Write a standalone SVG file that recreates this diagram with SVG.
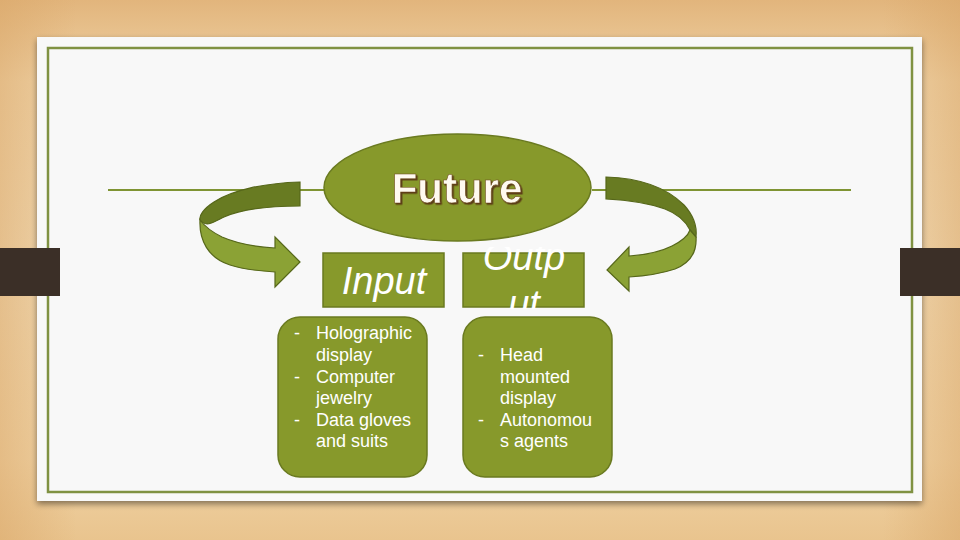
<svg xmlns="http://www.w3.org/2000/svg" width="960" height="540" viewBox="0 0 960 540">
<defs>
<linearGradient id="wood" x1="0" y1="0" x2="0" y2="1">
<stop offset="0" stop-color="#e2b57c"/>
<stop offset="0.15" stop-color="#efd2a6"/>
<stop offset="0.5" stop-color="#f1dab4"/>
<stop offset="0.85" stop-color="#f0d3a5"/>
<stop offset="1" stop-color="#e9c48e"/>
</linearGradient>
<linearGradient id="woodside" x1="0" y1="0" x2="1" y2="0">
<stop offset="0" stop-color="#d9a566" stop-opacity="0.5"/>
<stop offset="0.08" stop-color="#d9a566" stop-opacity="0"/>
<stop offset="0.92" stop-color="#d9a566" stop-opacity="0"/>
<stop offset="1" stop-color="#d9a566" stop-opacity="0.5"/>
</linearGradient>
<filter id="sh" x="-5%" y="-5%" width="110%" height="115%">
<feGaussianBlur in="SourceAlpha" stdDeviation="3"/>
<feOffset dx="0" dy="3"/>
<feComponentTransfer><feFuncA type="linear" slope="0.45"/></feComponentTransfer>
<feMerge><feMergeNode/><feMergeNode in="SourceGraphic"/></feMerge>
</filter>
<filter id="tsh" x="-10%" y="-20%" width="120%" height="140%">
<feDropShadow dx="1.5" dy="1.5" stdDeviation="0.4" flood-color="#5a3a12" flood-opacity="1"/>
</filter>
<clipPath id="outclip"><rect x="463" y="247" width="122" height="62"/></clipPath>
<style>
.shape{fill:#87992b;stroke:#6a7a20;stroke-width:1.5}
.band-dark{fill:#687b22;stroke:#56671a;stroke-width:1.2}
.band-light{fill:#8ba235;stroke:#56671a;stroke-width:1.2}
.hline{stroke:#7f9433;stroke-width:2}
.big{font-family:"Liberation Sans",Arial,sans-serif;font-style:italic;font-size:38px;fill:#ffffff}
.list{font-family:"Liberation Sans",Arial,sans-serif;font-size:18px;fill:#ffffff}
.fut{font-family:"Liberation Sans",Arial,sans-serif;font-weight:bold;font-size:42px;fill:#fffaf0;stroke:#6b4a1a;stroke-width:0.6}
</style>
</defs>
<rect x="0" y="0" width="960" height="540" fill="url(#wood)"/>
<rect x="0" y="0" width="960" height="540" fill="url(#woodside)"/>
<rect x="37" y="37" width="885" height="464" fill="#f8f8f8" filter="url(#sh)"/>
<rect x="48" y="48" width="864" height="444" fill="none" stroke="#7f9142" stroke-width="2.5"/>
<rect x="0" y="248" width="60" height="48" fill="#3b2f27"/>
<rect x="900" y="248" width="60" height="48" fill="#3b2f27"/>

<g id="connectors">
<line class="hline" x1="108" y1="190" x2="324" y2="190"/>
<line class="hline" x1="592" y1="190" x2="851" y2="190"/>
<g id="arrow-left">
<path class="band-dark" d="M300,182 C265,183 232,190 214,202 C203,209 199,216 200,220 C206,228 214,222 224,217 C242,209 270,206 300,206 Z"/>
<path class="band-light" d="M200,220 C199,240 208,258 230,265 C245,270 260,271 275,272 L275,287 L300,262 L275,237 L275,248 C258,247 238,244 222,237 C212,232 205,227 200,220 Z"/>
</g>
<g id="arrow-right">
<path class="band-dark" d="M606,177 C640,178 667,188 684,205 C694,216 697,228 696,237 L690,230 C686,222 678,214 665,209 C645,202 625,200 606,199 Z"/>
<path class="band-light" d="M696,237 C697,252 690,263 675,269 C660,274 645,276 629,277 L629,291 L607,270 L629,247 L629,256 C645,255 660,252 672,246 C682,241 688,236 690,230 Z"/>
</g>
</g>

<g id="future">
<ellipse class="shape" cx="457.5" cy="187.5" rx="133.5" ry="53.5"/>
<text class="fut" x="457" y="203" text-anchor="middle" filter="url(#tsh)">Future</text>
</g>

<g id="input">
<rect class="shape" x="323" y="253" width="121" height="54"/>
<text class="big" x="384" y="294" text-anchor="middle">Input</text>
</g>

<g id="output">
<rect class="shape" x="463" y="253" width="121" height="54"/>
<g clip-path="url(#outclip)">
<text class="big" x="524" y="270" text-anchor="middle">Outp</text>
<text class="big" x="524" y="317" text-anchor="middle">ut</text>
</g>
</g>

<g id="input-list">
<rect class="shape" x="278" y="317" width="149" height="160" rx="22"/>
<text class="list">
<tspan x="294" y="339">-</tspan><tspan x="316" y="339">Holographic</tspan>
<tspan x="316" y="361">display</tspan>
<tspan x="294" y="383">-</tspan><tspan x="316" y="383">Computer</tspan>
<tspan x="316" y="404">jewelry</tspan>
<tspan x="294" y="426">-</tspan><tspan x="316" y="426">Data gloves</tspan>
<tspan x="316" y="447">and suits</tspan>
</text>
</g>

<g id="output-list">
<rect class="shape" x="463" y="317" width="149" height="160" rx="22"/>
<text class="list">
<tspan x="478" y="361">-</tspan><tspan x="500" y="361">Head</tspan>
<tspan x="500" y="383">mounted</tspan>
<tspan x="500" y="404">display</tspan>
<tspan x="478" y="426">-</tspan><tspan x="500" y="426">Autonomou</tspan>
<tspan x="500" y="447">s agents</tspan>
</text>
</g>
</svg>
